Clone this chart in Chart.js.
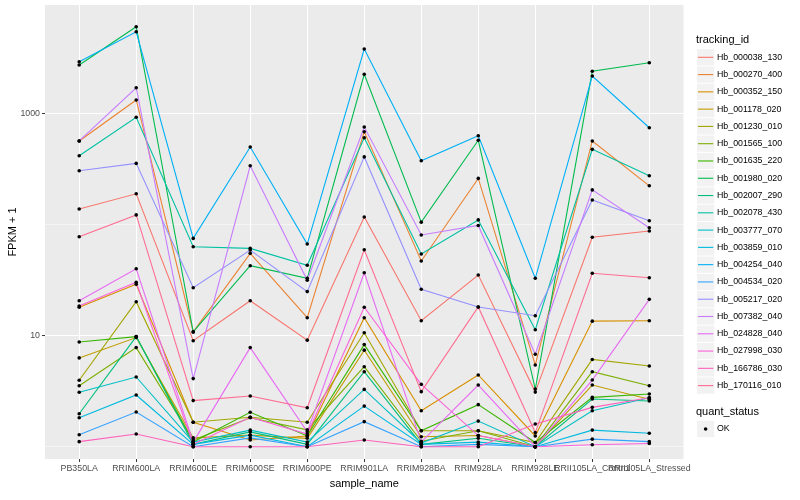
<!DOCTYPE html>
<html>
<head>
<meta charset="utf-8">
<script src="https://cdn.jsdelivr.net/npm/chart.js@4.4.1/dist/chart.umd.min.js"></script>
<style>
  html, body { margin: 0; padding: 0; background: #ffffff; }
  #wrap { width: 800px; height: 500px; }
</style>
</head>
<body>
<div id="wrap"><canvas id="chart" width="800" height="500"></canvas></div>
<script>
// samples on the x axis
const samples = [
  "PB350LA", "RRIM600LA", "RRIM600LE", "RRIM600SE", "RRIM600PE", "RRIM901LA",
  "RRIM928BA", "RRIM928LA", "RRIM928LE", "RRII105LA_Control", "RRII105LA_Stressed"
];

const trackingIds = [
  "Hb_000038_130", "Hb_000270_400", "Hb_000352_150", "Hb_001178_020", "Hb_001230_010",
  "Hb_001565_100", "Hb_001635_220", "Hb_001980_020", "Hb_002007_290", "Hb_002078_430",
  "Hb_003777_070", "Hb_003859_010", "Hb_004254_040", "Hb_004534_020", "Hb_005217_020",
  "Hb_007382_040", "Hb_024828_040", "Hb_027998_030", "Hb_166786_030", "Hb_170116_010"
];

// FPKM + 1, one value per sample
const hb_000038_130 = [138, 189, 9.0, 20.6, 9.1, 117, 13.6, 35.1, 3.1, 76.7, 87.5];
const hb_000270_400 = [565, 1321, 10.8, 55, 14.5, 684, 47, 260, 5.44, 565, 223];
const hb_000352_150 = [18, 29, 1.66, 1.15, 1.25, 14.5, 2.11, 4.42, 1.25, 13.5, 13.6];
const hb_001178_020 = [6.3, 9.6, 1.2, 1.27, 1.19, 7.4, 1.23, 1.26, 1.0, 3.59, 2.67];
const hb_001230_010 = [3.96, 20.2, 1.66, 1.84, 1.66, 10.6, 1.39, 1.39, 1.09, 6.1, 5.32];
const hb_001565_100 = [3.54, 7.8, 1.15, 1.82, 1.42, 5.25, 1.12, 1.39, 1.0, 4.73, 3.54];
const hb_001635_220 = [8.75, 9.8, 1.1, 2.04, 1.25, 8.3, 1.39, 2.39, 1.09, 2.78, 2.98];
const hb_001980_020 = [2727, 6030, 10.8, 42.6, 32.8, 2250, 105, 573, 3.3, 2393, 2860];
const hb_002007_290 = [1.98, 9.8, 1.05, 1.36, 1.05, 4.73, 1.05, 1.19, 1.0, 2.69, 2.58];
const hb_002078_430 = [416, 923, 63, 61, 43, 603, 54.3, 110, 11.3, 475, 275];
const hb_003777_070 = [3.09, 4.24, 1.1, 1.41, 1.1, 3.28, 1.08, 1.7, 1.0, 2.11, 2.76];
const hb_003859_010 = [1.82, 2.92, 1.05, 1.27, 1.0, 2.32, 1.05, 1.1, 1.0, 1.41, 1.32];
const hb_004254_040 = [2920, 5436, 75, 499, 66.7, 3800, 375, 630, 32.8, 2172, 743];
const hb_004534_020 = [1.28, 2.05, 1.0, 1.2, 1.0, 1.68, 1.0, 1.05, 1.0, 1.17, 1.11];
const hb_005217_020 = [305, 355, 27, 58.9, 24.9, 406, 26.1, 18.1, 15.1, 166, 108];
const hb_007382_040 = [565, 1703, 4.1, 338, 31.5, 755, 80.5, 98, 6.8, 205, 93.6];
const hb_024828_040 = [20.6, 40, 1.1, 7.8, 1.36, 36.8, 1.1, 3.59, 1.0, 3.98, 21.2];
const hb_027998_030 = [18.5, 30.2, 1.05, 1.84, 1.3, 18, 3.64, 1.26, 1.0, 1.04, 1.07];
const hb_166786_030 = [1.11, 1.3, 1.0, 1.0, 1.0, 1.15, 1.0, 1.0, 1.6, 2.26, 2.76];
const hb_170116_010 = [77.7, 122, 2.6, 2.86, 2.24, 59.3, 3.13, 18.1, 1.34, 36.4, 33.2];

const seriesValues = [
  hb_000038_130, hb_000270_400, hb_000352_150, hb_001178_020, hb_001230_010,
  hb_001565_100, hb_001635_220, hb_001980_020, hb_002007_290, hb_002078_430,
  hb_003777_070, hb_003859_010, hb_004254_040, hb_004534_020, hb_005217_020,
  hb_007382_040, hb_024828_040, hb_027998_030, hb_166786_030, hb_170116_010
];

const yTicks = [1, 10, 100, 1000];
const yTickLabels = ["", "10", "", "1000"];

// ggplot default hue palette for 20 groups
const palette = [
  "#F8766D", "#EA8331", "#D89000", "#C09B00", "#A3A500",
  "#7CAE00", "#39B600", "#00BB4E", "#00BF7D", "#00C1A3",
  "#00BFC4", "#00BAE0", "#00B0F6", "#35A2FF", "#9590FF",
  "#C77CFF", "#E76BF3", "#FA62DB", "#FF62BC", "#FF6C91"
];

const FONT = "'Liberation Sans', Arial, sans-serif";

const lineDatasets = seriesValues.map((values, s) => ({
  type: "line",
  label: trackingIds[s],
  data: values.map((v, i) => ({ x: i, y: v })),
  borderColor: palette[s],
  backgroundColor: palette[s],
  borderWidth: 1.1,
  pointRadius: 0,
  tension: 0,
  fill: false,
  order: 100 - s
}));

const pointDataset = {
  type: "scatter",
  label: "OK",
  data: seriesValues.flatMap((values) => values.map((v, i) => ({ x: i, y: v }))),
  backgroundColor: "#000000",
  borderWidth: 0,
  pointRadius: 1.8,
  order: 0
};

const panelBackground = {
  id: "panelBackground",
  beforeDraw(chart) {
    const { ctx, chartArea: a } = chart;
    ctx.save();
    ctx.fillStyle = "#EBEBEB";
    ctx.fillRect(a.left, a.top, a.right - a.left, a.bottom - a.top);
    ctx.restore();
  }
};

// ggplot-like legend on the right
const ggLegend = {
  id: "ggLegend",
  afterDraw(chart) {
    const ctx = chart.ctx;
    const x0 = 697;
    const key = 17.28;
    const firstY = 57.3;
    ctx.save();
    ctx.textBaseline = "middle";
    ctx.textAlign = "left";

    ctx.fillStyle = "#000000";
    ctx.font = "11px " + FONT;
    ctx.fillText("tracking_id", 696, 40);

    lineDatasets.forEach((ds, i) => {
      const cy = firstY + key * i;
      ctx.fillStyle = "#F2F2F2";
      ctx.fillRect(x0, cy - key / 2 + 0.5, key, key - 1);
      ctx.strokeStyle = ds.borderColor;
      ctx.lineWidth = 1.1;
      ctx.beginPath();
      ctx.moveTo(x0 + 1, cy);
      ctx.lineTo(x0 + key - 1, cy);
      ctx.stroke();
      ctx.fillStyle = "#000000";
      ctx.font = "8.8px " + FONT;
      ctx.fillText(ds.label, 717, cy);
    });

    ctx.font = "11px " + FONT;
    ctx.fillText("quant_status", 696, 412.3);
    const oy = 429;
    ctx.fillStyle = "#F2F2F2";
    ctx.fillRect(x0, oy - key / 2 + 0.5, key, key - 1);
    ctx.fillStyle = "#000000";
    ctx.beginPath();
    ctx.arc(x0 + key / 2, oy, 1.8, 0, Math.PI * 2);
    ctx.fill();
    ctx.font = "8.8px " + FONT;
    ctx.fillText(pointDataset.label, 717, oy);
    ctx.restore();
  }
};

new Chart(document.getElementById("chart"), {
  data: { datasets: [...lineDatasets, pointDataset] },
  options: {
    responsive: false,
    animation: false,
    events: [],
    layout: { padding: { left: 0, top: 5, right: 116.5, bottom: 0 } },
    plugins: {
      legend: { display: false },
      tooltip: { enabled: false }
    },
    scales: {
      x: {
        type: "linear",
        min: -0.6,
        max: 10.6,
        afterBuildTicks: (scale) => {
          scale.ticks = samples.map((s, i) => ({ value: i }));
        },
        afterFit: (scale) => {
          scale.height = 41;
          scale.paddingLeft = 0;
          scale.paddingRight = 0;
        },
        ticks: {
          callback: (value, index) => samples[index],
          autoSkip: false,
          maxRotation: 0,
          minRotation: 0,
          padding: 1,
          color: "#4D4D4D",
          font: { family: FONT, size: 8.8 }
        },
        grid: {
          color: "#FFFFFF",
          lineWidth: 1.07,
          tickLength: 3,
          tickColor: "#333333",
          tickWidth: 1
        },
        border: { display: false },
        title: {
          display: true,
          text: "sample_name",
          color: "#000000",
          font: { family: FONT, size: 11 },
          padding: { top: 0, bottom: 9 }
        }
      },
      y: {
        type: "logarithmic",
        min: 0.775,
        max: 9460,
        afterBuildTicks: (scale) => {
          scale.ticks = yTicks.map((v) => ({ value: v }));
        },
        afterFit: (scale) => {
          scale.width = 45;
          scale.paddingTop = 0;
          scale.paddingBottom = 0;
        },
        ticks: {
          callback: (value, index) => yTickLabels[index],
          autoSkip: false,
          padding: 2,
          color: "#4D4D4D",
          font: { family: FONT, size: 8.8 }
        },
        grid: {
          color: "#FFFFFF",
          lineWidth: (ctx) => (yTickLabels[ctx.index] ? 1.07 : 0.53),
          tickLength: 3,
          tickColor: (ctx) => (yTickLabels[ctx.index] ? "#333333" : "rgba(0,0,0,0)"),
          tickWidth: 1
        },
        border: { display: false },
        title: {
          display: true,
          text: "FPKM + 1",
          color: "#000000",
          font: { family: FONT, size: 11 },
          padding: { top: 6, bottom: 0 }
        }
      }
    }
  },
  plugins: [panelBackground, ggLegend]
});
</script>
</body>
</html>
